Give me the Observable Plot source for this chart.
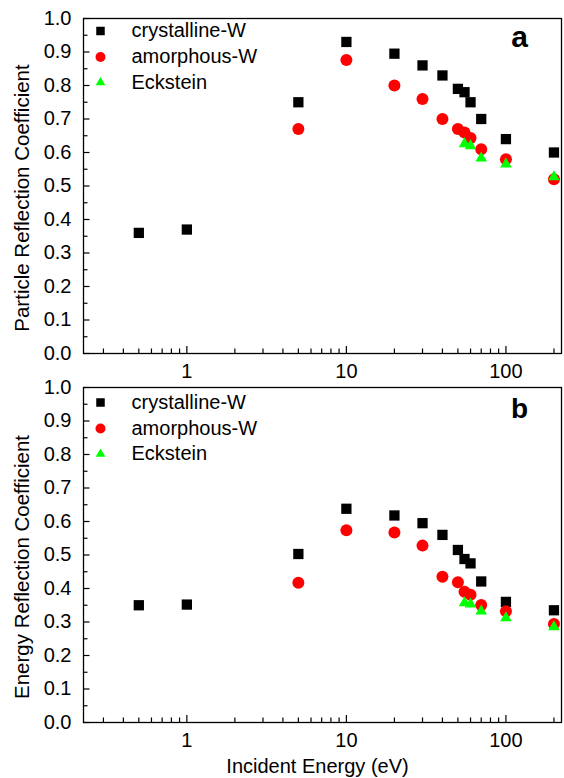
<!DOCTYPE html>
<html>
<head>
<meta charset="utf-8">
<script src="https://cdn.jsdelivr.net/npm/d3@7"></script>
<script src="https://cdn.jsdelivr.net/npm/@observablehq/plot@0.6"></script>
<style>
  html, body { margin: 0; padding: 0; background: #fff; }
  #chart svg { display: block; }
</style>
</head>
<body>
<div id="chart"></div>
<script>
// ---- data ----
const crystEnergy = [0.5, 1, 5, 10, 20, 30, 40, 50, 55, 60, 70, 100, 200];
const crystParticle = [0.36, 0.37, 0.75, 0.93, 0.895, 0.86, 0.83, 0.79, 0.78, 0.75, 0.70, 0.64, 0.60];
const crystEnergyRefl = [0.35, 0.352, 0.503, 0.638, 0.618, 0.595, 0.56, 0.515, 0.488, 0.475, 0.421, 0.36, 0.335];

const amorEnergy = [5, 10, 20, 30, 40, 50, 55, 60, 70, 100, 200];
const amorParticle = [0.67, 0.876, 0.80, 0.76, 0.70, 0.67, 0.66, 0.643, 0.61, 0.58, 0.52];
const amorEnergyRefl = [0.417, 0.574, 0.567, 0.528, 0.435, 0.419, 0.39, 0.381, 0.351, 0.332, 0.294];

const ecksEnergy = [55, 60, 70, 100, 200];
const ecksParticle = [0.626, 0.62, 0.583, 0.565, 0.527];
const ecksEnergyRefl = [0.357, 0.353, 0.332, 0.312, 0.285];

const seriesNames = ["crystalline-W", "amorphous-W", "Eckstein"];
const panelLetters = ["a", "b"];
const yTitles = ["Particle Reflection Coefficient", "Energy Reflection Coefficient"];
const xTitle = "Incident Energy (eV)";

const xMajorTicks = [1, 10, 100];
const xMinorTicks = [0.3, 0.4, 0.5, 0.6, 0.7, 0.8, 0.9, 2, 3, 4, 5, 6, 7, 8, 9, 20, 30, 40, 50, 60, 70, 80, 90, 200];
const yMajorTicks = [0, 0.1, 0.2, 0.3, 0.4, 0.5, 0.6, 0.7, 0.8, 0.9, 1.0];
const yMinorTicks = [0.05, 0.15, 0.25, 0.35, 0.45, 0.55, 0.65, 0.75, 0.85, 0.95];

// ---- styles ----
const FONT = "'Liberation Sans', Arial, Helvetica, sans-serif";
const styles = [
  {symbol: "square", fill: "#000000", r: 5.8, lr: 4.8},
  {symbol: "circle", fill: "#ff0000", r: 6, lr: 5},
  {symbol: "triangle", fill: "#00ff00", r: 4.3, lr: 3.6}
];

const W = 564, ML = 83, MR = 3;
const PH = 335, PW = W - ML - MR;

function toRows(xs, ys) { return xs.map((x, i) => ({x, y: ys[i]})); }

function panel(idx, seriesData, {height, marginTop, marginBottom, legendRows, titleShift, withXTitle}) {
  const marks = [];
  // inward tick marks
  marks.push(Plot.tickX(xMajorTicks, {x: d => d, insetTop: PH - 7, stroke: "#000", strokeWidth: 1.2}));
  marks.push(Plot.tickX(xMinorTicks, {x: d => d, insetTop: PH - 4.5, stroke: "#000", strokeWidth: 1.2}));
  marks.push(Plot.tickY(yMajorTicks, {y: d => d, insetRight: PW - 6.5, stroke: "#000", strokeWidth: 1.2}));
  marks.push(Plot.tickY(yMinorTicks, {y: d => d, insetRight: PW - 4.5, stroke: "#000", strokeWidth: 1.2}));
  // tick labels
  marks.push(Plot.axisX(xMajorTicks, {tickSize: 0, tickPadding: 10, fontSize: 20, tickFormat: d => String(d), label: null}));
  marks.push(Plot.axisY(yMajorTicks, {tickSize: 0, tickPadding: 12, fontSize: 20, tickFormat: d3.format(".1f"), label: null}));
  // data
  seriesData.forEach((rows, s) => {
    marks.push(Plot.dot(rows, {x: "x", y: "y", symbol: styles[s].symbol, fill: styles[s].fill, r: styles[s].r, stroke: "none"}));
  });
  // legend
  seriesNames.forEach((name, s) => {
    marks.push(Plot.dot([name], {frameAnchor: "top-left", dx: 17, dy: legendRows[s], symbol: styles[s].symbol, fill: styles[s].fill, r: styles[s].lr, stroke: "none"}));
    marks.push(Plot.text([name], {frameAnchor: "top-left", dx: 48, dy: legendRows[s], textAnchor: "start", lineAnchor: "middle", fontSize: 20, fill: "#000"}));
  });
  // panel letter
  marks.push(Plot.text([panelLetters[idx]], {frameAnchor: "top-right", dx: -42, dy: idx === 0 ? 28 : 30, textAnchor: "middle", lineAnchor: "bottom", fontSize: idx === 0 ? 30 : 28, fontWeight: "bold", fill: "#000"}));
  // y title
  marks.push(Plot.text([yTitles[idx]], {frameAnchor: "left", dx: -55, dy: titleShift, rotate: -90, textAnchor: "middle", lineAnchor: "bottom", fontSize: 20.5, fill: "#000"}));
  if (withXTitle) {
    marks.push(Plot.text([xTitle], {frameAnchor: "bottom", dx: -5, dy: 50, textAnchor: "middle", lineAnchor: "bottom", fontSize: 20, fill: "#000"}));
  }
  marks.push(Plot.frame({stroke: "#000", strokeWidth: 1.3}));

  return Plot.plot({
    width: W,
    height,
    marginLeft: ML,
    marginRight: MR,
    marginTop,
    marginBottom,
    style: {fontFamily: FONT, fontSize: "20px", color: "#000", background: "#fff", overflow: "visible"},
    x: {type: "log", domain: [0.225, 223], axis: null},
    y: {domain: [0, 1], axis: null},
    marks
  });
}

const chart = document.getElementById("chart");
chart.appendChild(panel(0, [
  toRows(crystEnergy, crystParticle),
  toRows(amorEnergy, amorParticle),
  toRows(ecksEnergy, ecksParticle)
], {height: 375, marginTop: 18, marginBottom: 22, legendRows: [12.5, 38.5, 64], titleShift: 12, withXTitle: false}));
chart.appendChild(panel(1, [
  toRows(crystEnergy, crystEnergyRefl),
  toRows(amorEnergy, amorEnergyRefl),
  toRows(ecksEnergy, ecksEnergyRefl)
], {height: 403, marginTop: 12, marginBottom: 56, legendRows: [15, 41, 66.5], titleShift: 12, withXTitle: true}));
</script>
</body>
</html>
